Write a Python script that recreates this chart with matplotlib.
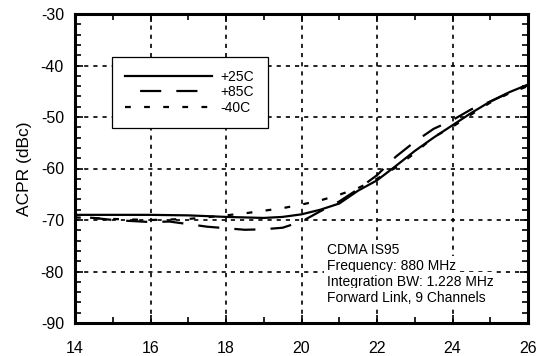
import numpy as np
import matplotlib
matplotlib.use('Agg')
import matplotlib.pyplot as plt
from matplotlib.ticker import MultipleLocator

plt.rcParams['font.family'] = ['Liberation Sans', 'DejaVu Sans']
plt.rcParams['axes.unicode_minus'] = False

# ------------------------------------------------------------
# data
# ------------------------------------------------------------
x_25 = [14, 15, 16, 17, 18, 19, 19.5, 20, 20.5, 21, 21.5, 22, 22.5,
        23, 23.5, 24, 24.5, 25, 25.5, 26]
y_25 = [-69.0, -69.0, -69.0, -69.1, -69.4, -69.6, -69.4, -68.9, -68.0,
        -66.8, -64.3, -62.3, -59.5, -56.6, -54.0, -51.6, -49.2, -47.0,
        -45.2, -43.7]

x_85 = [14, 14.5, 15, 15.5, 16, 16.5, 17, 17.5, 18, 18.5, 19, 19.5, 20,
        20.5, 21, 21.5, 22, 22.5, 23, 23.5, 24, 24.5, 25, 25.5, 26]
y_85 = [-69.4, -69.6, -70.0, -70.2, -70.4, -70.3, -70.8, -71.3, -71.6,
        -71.9, -71.8, -71.5, -70.3, -68.3, -66.4, -64.0, -61.3, -57.7,
        -54.8, -52.3, -50.6, -48.5, -47.0, -45.3, -43.8]

x_40 = [14, 15, 16, 17, 18, 18.5, 19, 19.5, 20, 20.5, 21, 21.5, 22, 22.5,
        23, 23.5, 24, 24.5, 25, 25.5, 26]
y_40 = [-69.5, -69.8, -70.0, -69.8, -69.1, -68.7, -68.2, -67.7, -67.0,
        -66.2, -65.1, -63.8, -62.0, -59.8, -57.0, -53.9, -51.9, -49.5,
        -47.2, -45.4, -44.0]

labels = ['+25C', '+85C', '-40C']
note = ['CDMA IS95', 'Frequency: 880 MHz', 'Integration BW: 1.228 MHz',
        'Forward Link, 9 Channels']

# ------------------------------------------------------------
# figure
# ------------------------------------------------------------
fig = plt.figure(figsize=(5.38, 3.56), dpi=100)
ax = fig.add_axes([75 / 538, 33 / 356, 453 / 538, 309 / 356])

lw = 1.6
ax.plot(x_25, y_25, color='black', lw=lw, ls='-', label=labels[0])
ax.plot(x_85, y_85, color='black', lw=lw, ls=(9.5, (9.5, 6.8)), label=labels[1])
ax.plot(x_40, y_40, color='black', lw=lw, ls=(0, (2.6, 6)), label=labels[2])

ax.set_xlim(14, 26)
ax.set_ylim(-90, -30)
ax.xaxis.set_major_locator(MultipleLocator(2))
ax.xaxis.set_minor_locator(MultipleLocator(1))
ax.yaxis.set_major_locator(MultipleLocator(10))
ax.yaxis.set_minor_locator(MultipleLocator(2))

ax.grid(True, which='major', color='black', lw=1.2, ls=(0, (2.5, 3)))
ax.set_axisbelow(True)
ax.tick_params(which='both', direction='in', top=True, right=True,
               color='black', width=1.2)
ax.tick_params(which='major', length=6, labelsize=11.5)
ax.tick_params(which='minor', length=4)
ax.tick_params(axis='x', pad=13)
ax.tick_params(axis='y', pad=8)

for s in ax.spines.values():
    s.set_linewidth(2.2)

ax.set_ylabel('ACPR (dBc)', fontsize=12.5, labelpad=6)

leg = ax.legend(loc='upper left', bbox_to_anchor=(0.081, 0.862),
                borderaxespad=0, fontsize=10, handlelength=6.3,
                handletextpad=0.6, labelspacing=0.1, borderpad=0.95,
                fancybox=False, framealpha=1, edgecolor='black')
leg.get_frame().set_linewidth(0.9)

# annotation, one line per text
for i, line in enumerate(note):
    ax.text(20.67, -75.8 - i * 3.1, line, fontsize=10, va='center', ha='left',
            bbox=dict(facecolor='white', edgecolor='none', pad=2))

fig.savefig('out.png', dpi=100)
